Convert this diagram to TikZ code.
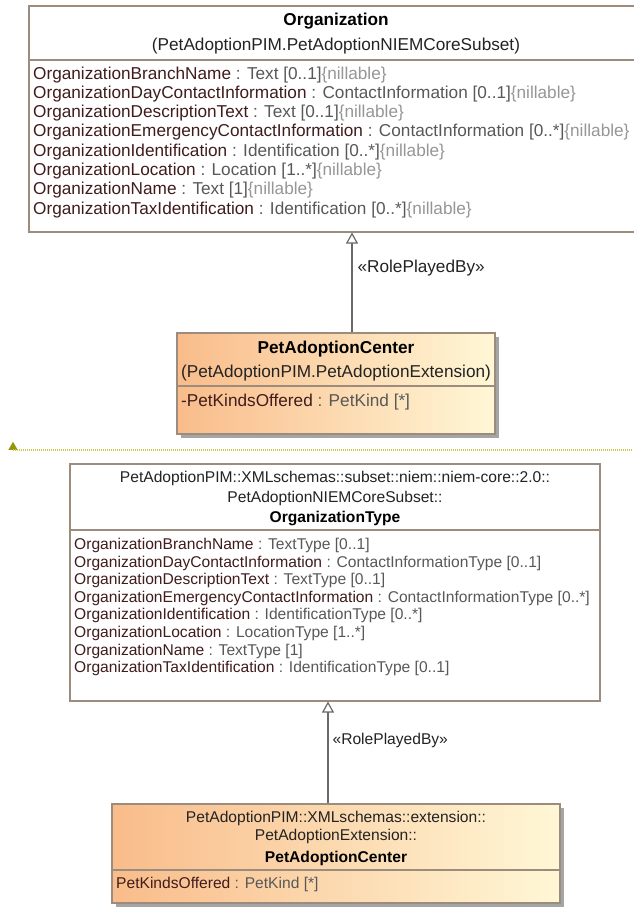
\documentclass[tikz,border=0pt]{standalone}
\usepackage{fontspec}
\setmainfont{Liberation Sans}
\usepackage{xcolor}
\usepackage{tikz}
\usetikzlibrary{arrows.meta,positioning,shapes.geometric,shadows}
\definecolor{bdr}{RGB}{155,140,125}
\definecolor{attn}{RGB}{64,28,28}
\definecolor{attt}{RGB}{88,88,88}
\definecolor{nill}{RGB}{150,150,150}
\definecolor{hdtxt}{RGB}{35,35,35}
\definecolor{pacL}{RGB}{249,188,138}
\definecolor{pacR}{RGB}{255,247,214}
\definecolor{shd}{RGB}{165,165,165}
\definecolor{lnk}{RGB}{105,105,105}
\definecolor{olv}{RGB}{205,200,80}
\definecolor{olvd}{RGB}{150,150,10}
\newcommand{\att}[3]{\textcolor{attn}{#1} \textcolor{attt}{: #2}\textcolor{nill}{#3}}
\newcommand{\nil}{\{nillable\}}

\begin{document}
\begin{tikzpicture}[
  x=1pt,y=-1pt,
  cls/.style={rectangle,draw=bdr,line width=1.1pt,fill=white,inner sep=0pt},
  pacbox/.style={cls,left color=pacL,right color=pacR,
                 drop shadow={shadow xshift=4pt,shadow yshift=-4pt,fill=shd,opacity=1}},
  sepl/.style={draw=bdr,line width=1.1pt},
  big/.style={font=\fontsize{17.2}{19.3}\selectfont,inner sep=0pt},
  sml/.style={font=\fontsize{15.6}{17.6}\selectfont,inner sep=0pt},
  hd/.style={text=hdtxt},
  realize/.style={draw=lnk,line width=1.2pt,-{Triangle[fill=white,length=11pt,width=12pt]}},
  rpb/.style={text=hdtxt,anchor=west},
  divider/.style={draw=olv,line width=1.1pt,dash pattern=on 1pt off 1pt},
  dvmark/.style={isosceles triangle,shape border rotate=90,isosceles triangle apex angle=60,
                 fill=olvd,draw=none,inner sep=0pt,minimum size=8pt,anchor=south}]

\useasboundingbox (0,0) rectangle (633,907);
\fill[white] (0,0) rectangle (633,907);

% ================= upper diagram: Organization =================
\node[cls,minimum width=614pt,minimum height=226pt] (org) at (336,119) {};
\draw[sepl] (org.west |- 0,60) -- (org.east |- 0,60);
\node[big,anchor=base] (orgname) at (336,26) {\bfseries Organization};
\node[big,hd,anchor=base] (orgpkg) at (336,51) {(PetAdoptionPIM.PetAdoptionNIEMCoreSubset)};
\node[big,anchor=base west] (oa1) at (33,79)    {\att{OrganizationBranchName}{Text [0..1]}{\nil}};
\node[big,anchor=base west] (oa2) at (33,98.3)  {\att{OrganizationDayContactInformation}{ContactInformation [0..1]}{\nil}};
\node[big,anchor=base west] (oa3) at (33,117.6) {\att{OrganizationDescriptionText}{Text [0..1]}{\nil}};
\node[big,anchor=base west] (oa4) at (33,136.9) {\att{OrganizationEmergencyContactInformation}{ContactInformation [0..*]}{\nil}};
\node[big,anchor=base west] (oa5) at (33,156.2) {\att{OrganizationIdentification}{Identification [0..*]}{\nil}};
\node[big,anchor=base west] (oa6) at (33,175.5) {\att{OrganizationLocation}{Location [1..*]}{\nil}};
\node[big,anchor=base west] (oa7) at (33,194.8) {\att{OrganizationName}{Text [1]}{\nil}};
\node[big,anchor=base west] (oa8) at (33,214.1) {\att{OrganizationTaxIdentification}{Identification [0..*]}{\nil}};

% PetAdoptionCenter (extension)
\node[pacbox,minimum width=318pt,minimum height=101pt] (pac) at (336,383.5) {};
\draw[sepl] (pac.west |- 0,386) -- (pac.east |- 0,386);
\node[big,anchor=base] (pacname) at (336,353) {\bfseries PetAdoptionCenter};
\node[big,hd,anchor=base] (pacpkg) at (336,377) {(PetAdoptionPIM.PetAdoptionExtension)};
\node[big,anchor=base west] (pa1) at (181,406) {\att{-PetKindsOffered}{PetKind [*]}{}};

\draw[realize] ([xshift=16pt]pac.north) -- ([xshift=16pt]pac.north |- org.south)
  node[big,rpb,pos=0.64,xshift=5pt] {«RolePlayedBy»};

% ================= divider =================
\node[dvmark] (dm) at (13,450) {};
\coordinate (dvend) at (633,450);
\draw[divider] (dm.south) -- (dvend);

% ================= lower diagram: OrganizationType =================
\node[cls,minimum width=530pt,minimum height=237pt] (orgt) at (335,582.5) {};
\draw[sepl] (orgt.west |- 0,530) -- (orgt.east |- 0,530);
\node[sml,hd,anchor=base] (otpkg1) at (335,482.5) {PetAdoptionPIM::XMLschemas::subset::niem::niem-core::2.0::};
\node[sml,hd,anchor=base] (otpkg2) at (335,502.5) {PetAdoptionNIEMCoreSubset::};
\node[sml,anchor=base] (otname) at (335,522.5) {\bfseries OrganizationType};
\node[sml,anchor=base west] (ta1) at (74,549.5) {\att{OrganizationBranchName}{TextType [0..1]}{}};
\node[sml,anchor=base west] (ta2) at (74,567.1) {\att{OrganizationDayContactInformation}{ContactInformationType [0..1]}{}};
\node[sml,anchor=base west] (ta3) at (74,584.7) {\att{OrganizationDescriptionText}{TextType [0..1]}{}};
\node[sml,anchor=base west] (ta4) at (74,602.3) {\att{OrganizationEmergencyContactInformation}{ContactInformationType [0..*]}{}};
\node[sml,anchor=base west] (ta5) at (74,619.9) {\att{OrganizationIdentification}{IdentificationType [0..*]}{}};
\node[sml,anchor=base west] (ta6) at (74,637.5) {\att{OrganizationLocation}{LocationType [1..*]}{}};
\node[sml,anchor=base west] (ta7) at (74,655.1) {\att{OrganizationName}{TextType [1]}{}};
\node[sml,anchor=base west] (ta8) at (74,672.7) {\att{OrganizationTaxIdentification}{IdentificationType [0..1]}{}};

% PetAdoptionCenter (schema)
\node[pacbox,minimum width=448pt,minimum height=99pt] (pact) at (336,853.5) {};
\draw[sepl] (pact.west |- 0,870) -- (pact.east |- 0,870);
\node[sml,hd,anchor=base] (ptpkg1) at (336,822.5) {PetAdoptionPIM::XMLschemas::extension::};
\node[sml,hd,anchor=base] (ptpkg2) at (336,840.5) {PetAdoptionExtension::};
\node[sml,anchor=base] (ptname) at (336,862.5) {\bfseries PetAdoptionCenter};
\node[sml,anchor=base west] (pt1) at (116,888.5) {\att{PetKindsOffered}{PetKind [*]}{}};

\draw[realize] ([xshift=-8pt]pact.north) -- ([xshift=-8pt]pact.north |- orgt.south)
  node[sml,rpb,pos=0.62,xshift=4pt] {«RolePlayedBy»};
\end{tikzpicture}
\end{document}
